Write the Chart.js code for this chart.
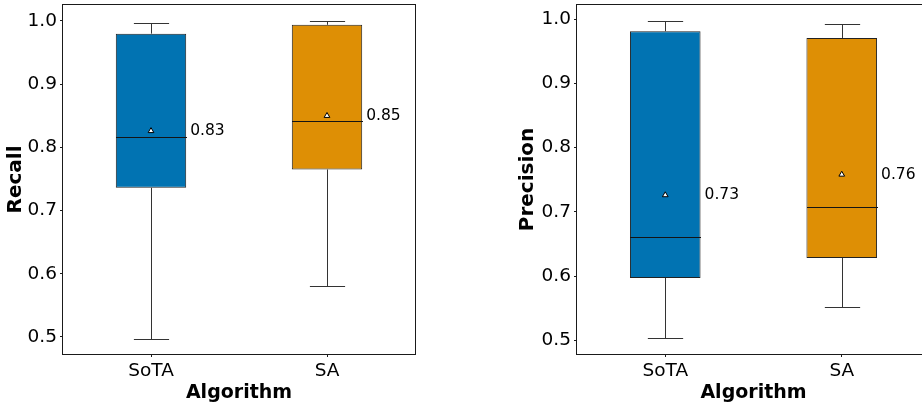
<!DOCTYPE html>
<html>
<head>
<meta charset="utf-8">
<script src="https://cdn.jsdelivr.net/npm/chart.js@4/dist/chart.umd.min.js"></script>
<style>
  html, body { margin: 0; padding: 0; background: #fff; overflow: hidden; width: 922px; height: 406px; }
  .panel { position: absolute; top: 0; height: 406px; }
  #recallPanel { left: 0; width: 420px; }
  #precisionPanel { left: 512px; width: 424px; }
</style>
</head>
<body>
<div class="panel" id="recallPanel"><canvas id="recallChart" width="420" height="406"></canvas></div>
<div class="panel" id="precisionPanel"><canvas id="precisionChart" width="424" height="406"></canvas></div>
<script>
// Categories, colours and tick values
const algorithms = ['SoTA', 'SA'];
const boxColors = ['#0173B2', '#DE8F05'];
const yTicks = [0.5, 0.6, 0.7, 0.8, 0.9, 1.0];

// Recall: five-number summary and mean per algorithm
const recallLow = [0.497, 0.580];
const recallQ1 = [0.736, 0.765];
const recallMedian = [0.816, 0.841];
const recallQ3 = [0.980, 0.994];
const recallHigh = [0.997, 1.000];
const recallMean = [0.826, 0.850];

// Precision: five-number summary and mean per algorithm
const precisionLow = [0.503, 0.552];
const precisionQ1 = [0.597, 0.628];
const precisionMedian = [0.660, 0.708];
const precisionQ3 = [0.981, 0.9705];
const precisionHigh = [0.997, 0.992];
const precisionMean = [0.726, 0.758];

const FONT = "'DejaVu Sans', 'Liberation Sans', sans-serif";

function crisp(v) { return Math.round(v) + 0.5; }

function makePanel(canvasId, yTitle, low, q1, median, q3, high, mean, yMin, yMax, yWidth, titlePad, rightPad) {
  // Whiskers, caps and median lines, drawn right after the boxes
  const boxParts = {
    id: 'boxParts',
    afterDatasetDraw(chart, args) {
      if (args.index !== 0) return;
      const xs = chart.scales.x, ys = chart.scales.y;
      const bars = chart.getDatasetMeta(0).data;
      const ctx = chart.ctx;
      ctx.save();
      ctx.lineWidth = 1;
      algorithms.forEach((_, i) => {
        const cx = crisp(xs.getPixelForValue(i));
        const half = bars[i].width / 2;
        const capHalf = half / 2;
        const yLow = crisp(ys.getPixelForValue(low[i]));
        const yQ1 = ys.getPixelForValue(q1[i]);
        const yQ3 = ys.getPixelForValue(q3[i]);
        const yHigh = crisp(ys.getPixelForValue(high[i]));
        const yMed = crisp(ys.getPixelForValue(median[i]));
        ctx.strokeStyle = '#333333';
        ctx.beginPath();
        ctx.moveTo(cx, yQ1); ctx.lineTo(cx, yLow);
        ctx.moveTo(cx - capHalf, yLow); ctx.lineTo(cx + capHalf, yLow);
        ctx.moveTo(cx, yQ3); ctx.lineTo(cx, yHigh);
        ctx.moveTo(cx - capHalf, yHigh); ctx.lineTo(cx + capHalf, yHigh);
        ctx.stroke();
        ctx.strokeStyle = '#141414';
        ctx.beginPath();
        ctx.moveTo(Math.round(cx - half), yMed); ctx.lineTo(Math.round(cx + half), yMed);
        ctx.stroke();
      });
      ctx.restore();
    }
  };

  // Mean value labels beside each box, plus the axes frame
  const annotations = {
    id: 'annotations',
    afterDatasetsDraw(chart) {
      const ys = chart.scales.y;
      const bars = chart.getDatasetMeta(0).data;
      const ctx = chart.ctx;
      ctx.save();
      ctx.font = '15.5px ' + FONT;
      ctx.fillStyle = '#000';
      ctx.textAlign = 'left';
      ctx.textBaseline = 'middle';
      mean.forEach((m, i) => {
        ctx.fillText(m.toFixed(2), bars[i].x + bars[i].width / 2 + 4, ys.getPixelForValue(m));
      });
      const a = chart.chartArea;
      ctx.strokeStyle = '#1a1a1a';
      ctx.lineWidth = 1;
      ctx.strokeRect(crisp(a.left) - 1, crisp(a.top) - 1, Math.round(a.right - a.left) + 1, Math.round(a.bottom - a.top) + 1);
      ctx.restore();
    }
  };

  return new Chart(document.getElementById(canvasId), {
    type: 'bar',
    data: {
      labels: algorithms,
      datasets: [
        {
          data: algorithms.map((_, i) => [q1[i], q3[i]]),
          backgroundColor: boxColors,
          borderColor: '#222222',
          borderWidth: 1,
          borderSkipped: false,
          barPercentage: 0.4,
          categoryPercentage: 1,
          order: 2
        },
        {
          type: 'line',
          data: mean,
          showLine: false,
          pointStyle: 'triangle',
          pointRadius: 3.3,
          pointBackgroundColor: '#ffffff',
          pointBorderColor: '#000000',
          pointBorderWidth: 1,
          order: 1
        }
      ]
    },
    options: {
      responsive: false,
      animation: false,
      events: [],
      layout: { padding: { left: 0, right: rightPad, top: 5, bottom: 0 } },
      plugins: { legend: { display: false }, tooltip: { enabled: false } },
      scales: {
        x: {
          offset: true,
          grid: { display: true, drawOnChartArea: false, offset: false, tickLength: 3, tickColor: '#1a1a1a' },
          border: { display: false },
          ticks: { color: '#000', font: { family: FONT, size: 18.5 }, padding: 3 },
          title: { display: true, text: 'Algorithm', color: '#000', font: { family: FONT, size: 19, weight: 'bold' }, padding: { top: 0, bottom: 1.5 } },
          afterFit(scale) {
            scale.height = 52;
            scale.paddingLeft = 0;
            scale.paddingRight = 0;
          }
        },
        y: {
          min: yMin,
          max: yMax,
          grid: { display: true, drawOnChartArea: false, tickLength: 3, tickColor: '#1a1a1a' },
          border: { display: false },
          ticks: { color: '#000', font: { family: FONT, size: 18.5 }, padding: 3, callback: v => v.toFixed(1) },
          afterBuildTicks(scale) { scale.ticks = yTicks.map(v => ({ value: v })); },
          title: { display: true, text: yTitle, color: '#000', font: { family: FONT, size: 20, weight: 'bold' }, padding: { top: titlePad, bottom: 0 } },
          afterFit(scale) {
            scale.width = yWidth;
            scale.paddingTop = 0;
            scale.paddingBottom = 0;
          }
        }
      }
    },
    plugins: [boxParts, annotations]
  });
}

makePanel('recallChart', 'Recall', recallLow, recallQ1, recallMedian, recallQ3, recallHigh, recallMean,
  0.473, 1.0253, 63, 3.5, 5);
makePanel('precisionChart', 'Precision', precisionLow, precisionQ1, precisionMedian, precisionQ3, precisionHigh, precisionMean,
  0.4787, 1.0218, 65, 4, 6);
</script>
</body>
</html>
